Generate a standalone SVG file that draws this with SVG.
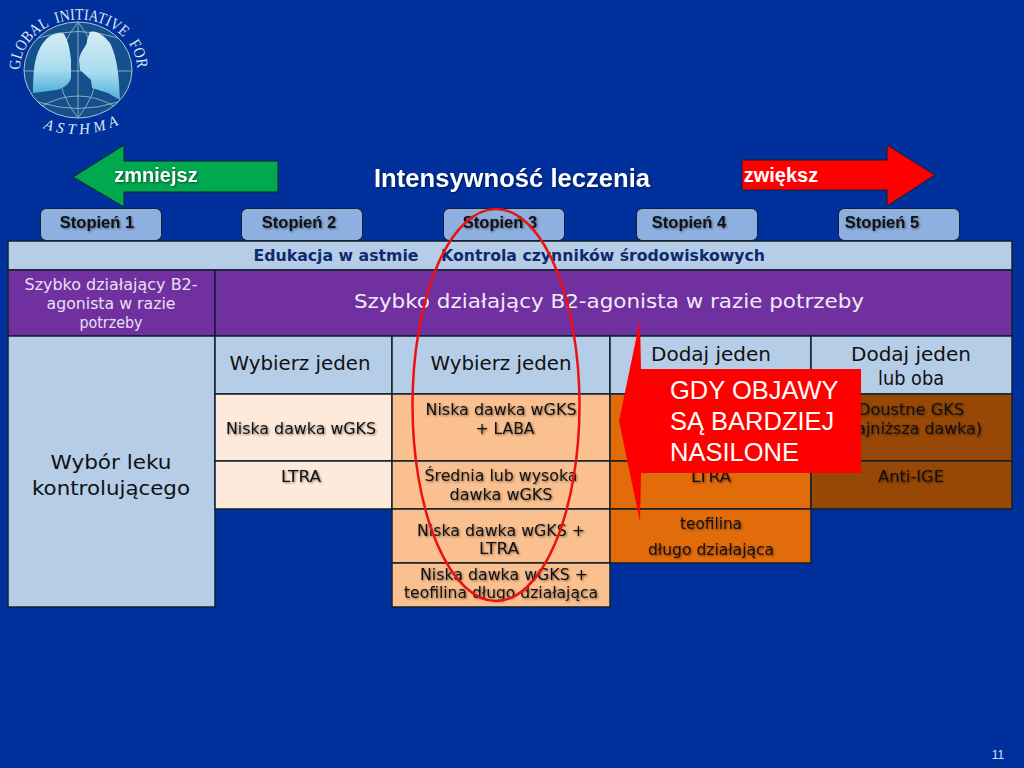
<svg xmlns="http://www.w3.org/2000/svg" width="1024" height="768" viewBox="0 0 1024 768">
<style>
.c{stroke:#10202c;stroke-width:1.5}
.v{font-family:"DejaVu Sans",Verdana,sans-serif;text-anchor:middle}
.a{font-family:"Liberation Sans",Arial,sans-serif}
.sh,.shg text{filter:drop-shadow(1px 1px 1px rgba(0,0,0,.5))}
.d{fill:#111}
.w{fill:#fff}
.st{fill:#8db0e0;stroke:#10202c;stroke-width:1}
.stt{font-family:"Liberation Sans",Arial,sans-serif;font-weight:bold;font-size:16.500px;fill:#111;text-anchor:middle;filter:drop-shadow(1px 1px 1px rgba(0,0,0,.45))}
.logo{font-family:"Liberation Serif",serif;fill:#dfe8f0}
.g{fill:none;stroke:#9fbfd0;stroke-width:.8}
</style>
<defs>
<linearGradient id="lung" x1="0" y1="0" x2="0" y2="1"><stop offset="0" stop-color="#d4ecf4"/><stop offset=".6" stop-color="#a8dcee"/><stop offset="1" stop-color="#4fb0d8"/></linearGradient>
<path id="arcTop" d="M 20 70 A 58 49 0 1 1 137 68"/>
<path id="arcBot" d="M 43 128 Q 80 142 120 124"/>
</defs>
<rect width="1024" height="768" fill="#00309c"/>

<g id="logo">
<ellipse cx="78" cy="70" rx="54" ry="48" fill="#15508c" stroke="#a8c4d4" stroke-width="1"/>
<path class="g" d="M24 71H132M38 38Q78 25 118 38M38 102Q78 115 118 102M78 22V118M78 22Q40 70 78 118M78 22Q116 70 78 118M42 106Q78 86 114 106"/>
<path d="M33 93C33 70 34 48 50 36C56 33 62 32 64 34C68 40 70 50 71 60L71 78C69 85 62 89 56 90Z" fill="url(#lung)"/>
<path d="M90 32C97 30 104 36 110 43C116 55 119 70 120 100L108 93L92 88L91 80L80 70L79 60C80 50 88 46 87 40Z" fill="url(#lung)"/>
<text class="logo" font-size="16" word-spacing="5"><textPath href="#arcTop" textLength="170" lengthAdjust="spacingAndGlyphs">GLOBAL INITIATIVE FOR</textPath></text>
<text class="logo" font-size="15" font-style="italic"><textPath href="#arcBot" textLength="78" lengthAdjust="spacing">ASTHMA</textPath></text>
</g>

<g id="arrow-zmniejsz">
<polygon points="73,177 124,145 124,161 278,161 278,192 124,192 124,207" fill="#00a84f" stroke="#10202c" stroke-width="1"/>
<text class="a sh w" x="156" y="182" font-size="20" font-weight="bold" text-anchor="middle">zmniejsz</text>
</g>
<g id="arrow-zwieksz">
<polygon points="742,160 887,160 887,145 935,175 887,206 887,190 742,190" fill="#ff0000" stroke="#10202c" stroke-width="1"/>
<text class="a w" x="781" y="182" font-size="20" font-weight="bold" text-anchor="middle">zwiększ</text>
</g>
<text id="title" class="a sh w" x="512" y="187" font-size="25" font-weight="bold" text-anchor="middle" textLength="276" lengthAdjust="spacingAndGlyphs">Intensywność leczenia</text>

<g id="step1"><rect class="st" x="40.500" y="208.500" width="121" height="32" rx="6"/><text class="stt" x="97" y="228">Stopień 1</text></g>
<g id="step2"><rect class="st" x="241.500" y="208.500" width="121" height="32" rx="6"/><text class="stt" x="299" y="228">Stopień 2</text></g>
<g id="step3"><rect class="st" x="443.500" y="208.500" width="121" height="32" rx="6"/><text class="stt" x="500" y="228">Stopień 3</text></g>
<g id="step4"><rect class="st" x="636.500" y="208.500" width="121" height="32" rx="6"/><text class="stt" x="689" y="228">Stopień 4</text></g>
<g id="step5"><rect class="st" x="838.500" y="208.500" width="121" height="32" rx="6"/><text class="stt" x="882" y="228">Stopień 5</text></g>

<g id="row-education">
<rect class="c" x="8" y="241" width="1004" height="29" fill="#b5cde6"/>
<text class="v" x="336" y="261" font-size="15" font-weight="bold" fill="#0f2a6e" textLength="165" lengthAdjust="spacingAndGlyphs">Edukacja w astmie</text>
<text class="v" x="603" y="261" font-size="15" font-weight="bold" fill="#0f2a6e" textLength="324" lengthAdjust="spacingAndGlyphs">Kontrola czynników środowiskowych</text>
</g>
<g id="row-reliever">
<rect class="c" x="8" y="270" width="207" height="66" fill="#7030a0"/>
<rect class="c" x="215" y="270" width="797" height="66" fill="#7030a0"/>
<g class="v" font-size="15" fill="#e8e0f0">
<text x="111" y="290" textLength="173" lengthAdjust="spacingAndGlyphs">Szybko działający B2-</text>
<text x="111" y="309" textLength="129" lengthAdjust="spacingAndGlyphs">agonista w razie</text>
<text x="111" y="328" textLength="63" lengthAdjust="spacingAndGlyphs">potrzeby</text>
</g>
<text class="v" x="609" y="308" font-size="20" fill="#f0eaf6" textLength="510" lengthAdjust="spacingAndGlyphs">Szybko działający B2-agonista w razie potrzeby</text>
</g>
<g id="controller-label">
<rect class="c" x="8" y="336" width="207" height="271" fill="#b5cde6"/>
<text class="v d" x="111" y="469" font-size="20" textLength="121" lengthAdjust="spacingAndGlyphs">Wybór leku</text>
<text class="v d" x="111" y="495" font-size="20" textLength="158" lengthAdjust="spacingAndGlyphs">kontrolującego</text>
</g>
<g id="headers" class="v d" font-size="19">
<rect class="c" x="215" y="336" width="177" height="58" fill="#b5cde6"/>
<rect class="c" x="392" y="336" width="218" height="58" fill="#b5cde6"/>
<rect class="c" x="610" y="336" width="201" height="58" fill="#b5cde6"/>
<rect class="c" x="811" y="336" width="201" height="58" fill="#b5cde6"/>
<text x="300" y="370" textLength="141" lengthAdjust="spacingAndGlyphs">Wybierz jeden</text>
<text x="501" y="370" textLength="141" lengthAdjust="spacingAndGlyphs">Wybierz jeden</text>
<text x="711" y="361" textLength="120" lengthAdjust="spacingAndGlyphs">Dodaj jeden</text>
<text x="911" y="361" textLength="120" lengthAdjust="spacingAndGlyphs">Dodaj jeden</text>
<text x="911" y="385" textLength="66" lengthAdjust="spacingAndGlyphs">lub oba</text>
</g>
<g id="step2-cells" class="v d shg" font-size="15">
<rect class="c" x="215" y="394" width="177" height="67" fill="#fdeada"/>
<rect class="c" x="215" y="461" width="177" height="48" fill="#fdeada"/>
<text x="301" y="434" textLength="150" lengthAdjust="spacingAndGlyphs">Niska dawka wGKS</text>
<text x="301" y="482" textLength="40" lengthAdjust="spacingAndGlyphs">LTRA</text>
</g>
<g id="step3-cells" class="v d shg" font-size="15">
<rect class="c" x="392" y="394" width="218" height="67" fill="#fac090"/>
<rect class="c" x="392" y="461" width="218" height="48" fill="#fac090"/>
<rect class="c" x="392" y="509" width="218" height="54" fill="#fac090"/>
<rect class="c" x="392" y="563" width="218" height="44" fill="#fac090"/>
<text x="501" y="415" textLength="151" lengthAdjust="spacingAndGlyphs">Niska dawka wGKS</text>
<text x="505" y="434" textLength="59" lengthAdjust="spacingAndGlyphs">+ LABA</text>
<text x="501" y="481" textLength="153" lengthAdjust="spacingAndGlyphs">Średnia lub wysoka</text>
<text x="501" y="500" textLength="103" lengthAdjust="spacingAndGlyphs">dawka wGKS</text>
<text x="501" y="536" textLength="168" lengthAdjust="spacingAndGlyphs">Niska dawka wGKS +</text>
<text x="499" y="554" textLength="40" lengthAdjust="spacingAndGlyphs">LTRA</text>
<text x="504" y="580" textLength="168" lengthAdjust="spacingAndGlyphs">Niska dawka wGKS +</text>
<text x="501" y="598" textLength="194" lengthAdjust="spacingAndGlyphs">teofilina długo działająca</text>
</g>
<g id="step4-cells" class="v d shg" font-size="15">
<rect class="c" x="610" y="394" width="201" height="67" fill="#e36c0a"/>
<rect class="c" x="610" y="461" width="201" height="48" fill="#e36c0a"/>
<rect class="c" x="610" y="509" width="201" height="54" fill="#e36c0a"/>
<text x="711" y="482" textLength="40" lengthAdjust="spacingAndGlyphs">LTRA</text>
<text x="711" y="529" textLength="62" lengthAdjust="spacingAndGlyphs">teofilina</text>
<text x="711" y="555" textLength="126" lengthAdjust="spacingAndGlyphs">długo działająca</text>
</g>
<g id="step5-cells" class="v d shg" font-size="15">
<rect class="c" x="811" y="394" width="201" height="67" fill="#974806"/>
<rect class="c" x="811" y="461" width="201" height="48" fill="#974806"/>
<text x="911" y="415" textLength="106" lengthAdjust="spacingAndGlyphs">Doustne GKS</text>
<text x="911" y="434" textLength="142" lengthAdjust="spacingAndGlyphs">(najniższa dawka)</text>
<text x="911" y="482" textLength="66" lengthAdjust="spacingAndGlyphs">Anti-IGE</text>
</g>

<g id="callout">
<polygon points="640,320 641,369 861,369 861,473 641,473 640,522 619,421" fill="#ff0000"/>
<g class="a w" font-size="25.500">
<text x="670" y="399">GDY OBJAWY</text>
<text x="670" y="430">SĄ BARDZIEJ</text>
<text x="670" y="461">NASILONE</text>
</g>
</g>
<ellipse id="highlight" cx="496" cy="405" rx="83.500" ry="196" fill="none" stroke="#ee1111" stroke-width="2.500"/>
<text id="page" class="a" x="998" y="759" font-size="12" fill="#d8e0f0" text-anchor="middle">11</text>
</svg>
